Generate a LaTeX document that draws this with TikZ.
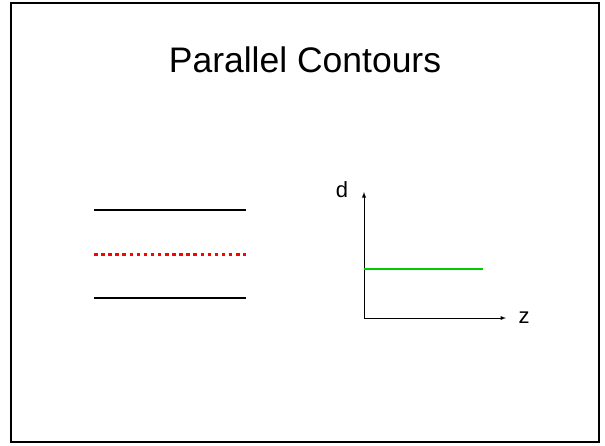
\documentclass[tikz,border=0pt]{standalone}
\usepackage{fontspec}
\setmainfont{Liberation Sans}
\usetikzlibrary{arrows,positioning}

\begin{document}
\begin{tikzpicture}[x=1pt,y=-1pt,
    contour/.style={line width=2.5pt,black},
    midline/.style={line width=3pt,red,dash pattern=on 3.5pt off 3.6pt},
    axis/.style={line width=0.9pt,-latex},
    level/.style={line width=1.8pt,green!80!black},
    axlabel/.style={anchor=base,font=\fontsize{22}{26}\selectfont}]
    \useasboundingbox (0,0) rectangle (605,445);
    \draw[line width=2pt] (11,3) rectangle (599,442);
    \node[anchor=base] (title) at (305,72) {\fontsize{35.5}{40}\selectfont Parallel Contours};
    % the two contours and the one between them
    \coordinate (c1a) at (94,210);  \coordinate (c1b) at (246,210);
    \coordinate (ma)  at (94,254);  \coordinate (mb)  at (246,254);
    \coordinate (c2a) at (94,298);  \coordinate (c2b) at (246,298);
    \draw[contour] (c1a) -- (c1b);
    \draw[midline] (ma) -- (mb);
    \draw[contour] (c2a) -- (c2b);
    % distance plot
    \coordinate (o) at (364,318);
    \coordinate (dtop) at (364,192);
    \coordinate (zend) at (506,318);
    \draw[axis] (o) -- (dtop);
    \draw[axis] (o) -- (zend);
    \node[axlabel] (d) at (342,197) {d};
    \node[axlabel] (z) at (524,323) {z};
    \coordinate (ga) at (364,269);
    \coordinate (gb) at (483,269);
    \draw[level] (ga) -- (gb);
\end{tikzpicture}
\end{document}
